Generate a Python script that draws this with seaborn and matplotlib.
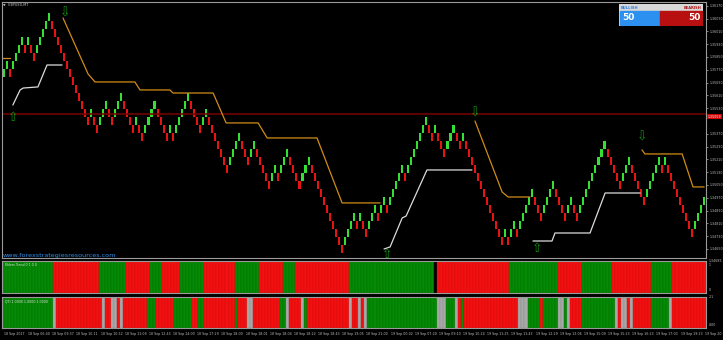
import numpy as np
import pandas as pd
import matplotlib
matplotlib.use("Agg")
import matplotlib.pyplot as plt
import seaborn as sns

# ---------------- data ----------------
# Renko brick directions (U = bullish brick, D = bearish brick), left to right
BRICKS_A = "UUDUUUUDUDDUUUUU"
BRICKS_B = "DDDDDDDDDDDDD"
BRICKS_C = "UDDUUUDDUUUDDDD"
BRICKS_D = "UDDUUUUDDDD"
BRICKS_E = "UDUUUUUDDDDUU"
BRICKS_F = "DDDDDDDUUUU"
BRICKS_G = "DDDUUDDDDDUUDUUUDDDDUUUDDDDDDDDDDDUUUUDUDDUUUDUUDUUUUUDUUUUUUUDDUDDDUUUDDUDDDDD"
BRICKS_H = "DDDDDDDDUDUUDUUUUUDDDUUUUDDDDUUDDUUUUUUUUUDDDDDUUUDDDDDUUUUUDUDDDDDDDDDUUUU"
BRICK_BASE = 1.3570   # price before the first brick
BRICK_SIZE = 0.0005

# Trailing stop lines (brick index, price)
ORANGE1_X = [-1.2, 2.2]
ORANGE1_Y = [1.35844, 1.35844]
ORANGE2_X = [19.7, 28.0, 30.3, 43.5, 45.2, 55.1, 56.1, 69.4, 73.7, 84.3, 87.3, 103.8, 112.1, 124.7]
ORANGE2_Y = [1.36094, 1.35744, 1.35694, 1.35694, 1.35644, 1.35644, 1.35625, 1.35625, 1.35438,
             1.35438, 1.35344, 1.35344, 1.34938, 1.34938]
ORANGE3_X = [156.1, 165.1, 167.1, 174.3]
ORANGE3_Y = [1.35450, 1.35006, 1.34975, 1.34975]
ORANGE4_X = [211.4, 212.4, 224.7, 228.3, 232.0]
ORANGE4_Y = [1.35269, 1.35244, 1.35244, 1.35038, 1.35038]
WHITE1_X = [3.1, 5.5, 6.5, 11.4, 14.4, 19.4]
WHITE1_Y = [1.35550, 1.35644, 1.35656, 1.35663, 1.35800, 1.35800]
WHITE2_X = [126.0, 128.0, 132.0, 133.3, 140.2, 155.1]
WHITE2_Y = [1.34650, 1.34663, 1.34844, 1.34856, 1.35144, 1.35144]
WHITE3_X = [175.3, 181.6, 182.6, 194.2, 199.2, 210.8]
WHITE3_Y = [1.34700, 1.34700, 1.34750, 1.34750, 1.35000, 1.35000]

UP_ARROW_X = [3.1, 127.0, 176.7]
UP_ARROW_Y = [1.35469, 1.34613, 1.34656]
DN_ARROW_X = [20.4, 156.1, 211.4]
DN_ARROW_Y = [1.36125, 1.35500, 1.35350]

HLINE_PRICE = 1.35494
HLINE_LABEL = "1.35059"

PRICE_TICKS = [1.36170, 1.36090, 1.36010, 1.35930, 1.35850, 1.35770, 1.35690, 1.35610,
               1.35530, 1.35370, 1.35290, 1.35210, 1.35130, 1.35050, 1.34970,
               1.34890, 1.34810, 1.34730, 1.34650]

EHLERS_RUNS = [("G", 17), ("R", 15), ("G", 9), ("R", 8), ("G", 4), ("R", 6), ("G", 8), ("R", 10),
               ("G", 8), ("R", 8), ("G", 4), ("R", 18), ("G", 28), ("K", 1), ("R", 24), ("G", 16),
               ("R", 8), ("G", 10), ("R", 13), ("G", 7), ("R", 11)]
QTI_RUNS = [("G", 17), ("A", 1), ("R", 15), ("A", 1), ("R", 2), ("A", 2), ("R", 1), ("A", 1),
            ("R", 8), ("G", 3), ("R", 6), ("G", 6), ("R", 2), ("G", 2), ("R", 10), ("G", 1),
            ("R", 3), ("A", 2), ("R", 9), ("G", 2), ("A", 1), ("R", 4), ("A", 1), ("G", 1),
            ("R", 14), ("A", 1), ("R", 2), ("A", 1), ("R", 1), ("A", 1), ("G", 23), ("A", 3),
            ("G", 3), ("A", 1), ("R", 1), ("G", 1), ("R", 18), ("A", 3), ("G", 4), ("R", 1),
            ("G", 5), ("A", 2), ("G", 1), ("A", 1), ("R", 4), ("G", 11), ("A", 1), ("R", 1),
            ("A", 2), ("R", 1), ("A", 1), ("R", 6), ("G", 6), ("A", 1), ("R", 11)]

TIME_LABELS = ["18 Sep 2017", "18 Sep 06:40", "18 Sep 09:37", "18 Sep 10:11", "18 Sep 10:52",
               "18 Sep 11:09", "18 Sep 12:43", "18 Sep 14:00", "18 Sep 17:29", "18 Sep 18:00",
               "18 Sep 18:01", "18 Sep 18:04", "18 Sep 18:22", "18 Sep 18:43", "18 Sep 19:05",
               "18 Sep 21:00", "19 Sep 00:02", "19 Sep 07:20", "19 Sep 09:10", "19 Sep 10:24",
               "19 Sep 11:25", "19 Sep 11:43", "19 Sep 12:29", "19 Sep 13:06", "19 Sep 15:09",
               "19 Sep 15:23", "19 Sep 16:23", "19 Sep 17:03", "19 Sep 19:23", "19 Sep 20"]
TIME_STEP_BARS = 8

# ---------------- figure ----------------
sns.set_theme(style="dark")
plt.rcParams['font.family'] = ['DejaVu Sans']
W, H = 723, 340
fig = plt.figure(figsize=(W / 100, H / 100), dpi=100, facecolor='black')

def rect(x0, y0, x1, y1):
    return [x0 / W, 1 - y1 / H, (x1 - x0) / W, (y1 - y0) / H]

ax = fig.add_axes(rect(2, 2, 706, 258))
ax1 = fig.add_axes(rect(2, 261, 706, 293))
ax2 = fig.add_axes(rect(2, 297, 706, 328))
XLIM = (-0.5, 232.6)
for a in (ax, ax1, ax2):
    a.set_facecolor('black')
    a.set_xlim(*XLIM)
    a.grid(False)
    for s in a.spines.values():
        s.set_color('#9a9a9a')
        s.set_linewidth(0.8)

# bricks
dirs = "".join([BRICKS_A, BRICKS_B, BRICKS_C, BRICKS_D, BRICKS_E, BRICKS_F, BRICKS_G, BRICKS_H])
steps = np.array([1 if c == "U" else -1 for c in dirs])
centers = BRICK_BASE + np.cumsum(steps) * BRICK_SIZE
idx = np.arange(len(dirs))
bdf = pd.DataFrame({"i": idx, "c": centers, "up": steps > 0})
ax.bar(bdf["i"], BRICK_SIZE * 0.96, bottom=bdf["c"] - BRICK_SIZE * 0.48, width=0.68,
       color=np.where(bdf["up"], '#35e035', '#e81414'), linewidth=0)

ax.axhline(HLINE_PRICE, color='#7a0000', lw=1.1, zorder=1)

for xs, ys in [(ORANGE1_X, ORANGE1_Y), (ORANGE2_X, ORANGE2_Y), (ORANGE3_X, ORANGE3_Y), (ORANGE4_X, ORANGE4_Y)]:
    sns.lineplot(x=xs, y=ys, ax=ax, color='#d08c18', lw=0.9, sort=False, estimator=None)
for xs, ys in [(WHITE1_X, WHITE1_Y), (WHITE2_X, WHITE2_Y), (WHITE3_X, WHITE3_Y)]:
    sns.lineplot(x=xs, y=ys, ax=ax, color='#dcdcdc', lw=0.9, sort=False, estimator=None)

for x, y in zip(UP_ARROW_X, UP_ARROW_Y):
    ax.text(x, y, "\u21e7", color='#129012', fontsize=9, ha='center', va='center')
for x, y in zip(DN_ARROW_X, DN_ARROW_Y):
    ax.text(x, y, "\u21e9", color='#129012', fontsize=9, ha='center', va='center')

YLIM = (1.3459375, 1.3619375)
ax.set_ylim(*YLIM)
ax.set_xticks([])
ax.yaxis.tick_right()
ax.set_yticks(PRICE_TICKS)
ax.set_yticklabels([f"{v:.5f}" for v in PRICE_TICKS])
ax.tick_params(axis='y', colors='#bdbdbd', labelsize=2.3, length=1.5, width=0.5, pad=0.8)

# current price tag
fig.text(707.5 / W, 1 - 116.5 / H, HLINE_LABEL, color='white', fontsize=2.3, va='center', ha='left',
         bbox=dict(facecolor='#d00000', edgecolor='none', pad=0.6))

# indicator panels
cmap = {"G": '#058a05', "R": '#f41010', "A": '#a8a8a8', "K": 'black'}
emap = {"G": '#036a03', "R": '#c40c0c', "A": '#888888', "K": 'black'}
def expand(runs):
    out = []
    for c, n in runs:
        out += [c] * n
    return out
for a, runs, lbl in [(ax1, EHLERS_RUNS, "Ehlers Trend 0 1 0 0"), (ax2, QTI_RUNS, "QTI 1.0000 1.0000 1.0000")]:
    codes = expand(runs)
    pdf = pd.DataFrame({"i": np.arange(len(codes)), "v": 1.0, "code": codes})
    a.bar(pdf["i"], pdf["v"], width=1.0, color=[cmap[c] for c in pdf["code"]],
          edgecolor=[emap[c] for c in pdf["code"]], linewidth=0.25)
    a.set_ylim(0, 1.0)
    a.set_yticks([])
    a.set_xticks([])
    a.text(0.004, 0.93, lbl, transform=a.transAxes, color='#e0e0e0', fontsize=2.3, va='top', ha='left')

# right labels of panels
for y, t in [(260.5, "1.34685"), (265, "1"), (290, "0"), (297, "2.1"), (325.5, "0.00")]:
    fig.text(708.5 / W, 1 - y / H, t, color='#bdbdbd', fontsize=2.3, va='center', ha='left')

# time axis
tick_pos = [i * TIME_STEP_BARS for i in range(len(TIME_LABELS))]
for p, t in zip(tick_pos, TIME_LABELS):
    xf = ax2.transData.transform((p, 0))[0] / (W)
    fig.text(xf + 0.5 / W, 1 - 334.5 / H, t, color='#bdbdbd', fontsize=2.3, va='center', ha='left')

# titles / overlays
fig.text(3 / W, 1 - 4.5 / H, "\u25bc  GBPUSD,M7", color='#c8c8c8', fontsize=2.4, va='center', ha='left')
fig.text(3 / W, 1 - 255.5 / H, "www.forexstrategiesresources.com", color='#2f8fe8', fontsize=4.6,
         va='center', ha='left')

# bullish / bearish box
box = fig.add_axes(rect(619, 4, 703, 26))
box.set_xlim(0, 84)
box.set_ylim(22, 0)
box.axis('off')
box.add_patch(plt.Rectangle((0, 0), 84, 22, color='#d8d8d8'))
box.add_patch(plt.Rectangle((1, 7), 40, 14, color='#2b90f0'))
box.add_patch(plt.Rectangle((41, 7), 42, 14, color='#b81010'))
box.text(2, 3.6, "BULLISH", color='#2b7fe0', fontsize=2.6, fontweight='bold', va='center', ha='left')
box.text(82, 3.6, "BEARISH", color='#b01010', fontsize=2.6, fontweight='bold', va='center', ha='right')
box.text(3, 14, "50", color='white', fontsize=6.5, fontweight='bold', va='center', ha='left')
box.text(82, 14, "50", color='white', fontsize=6.5, fontweight='bold', va='center', ha='right')

fig.savefig("out.png", dpi=100, facecolor='black')
